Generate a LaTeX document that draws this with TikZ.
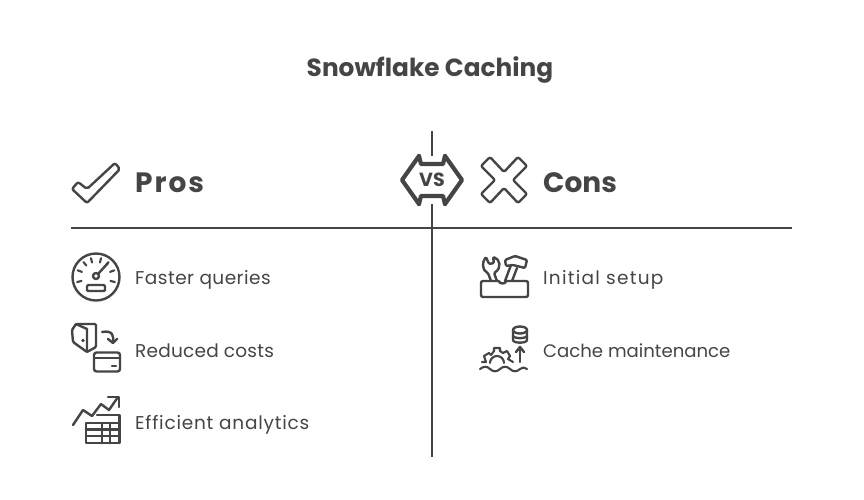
\documentclass[tikz,border=0pt]{standalone}
\usepackage{fontspec}
\setmainfont{Poppins}
\definecolor{ink}{HTML}{454545}
\newcommand{\lsp}[1]{\addfontfeature{LetterSpace=#1}}
\tikzset{
  icon/.style={draw=ink,line width=2.4pt,line cap=round,line join=round,rounded corners=1.2pt},
  sharp/.style={draw=ink,line width=2.4pt,line cap=round,line join=round},
  rule/.style={draw=ink,line width=2.9pt},
  itemtext/.style={anchor=base west,inner sep=0pt,text=ink,font=\fontsize{18.5}{20}\selectfont},
  headtext/.style={anchor=base west,inner sep=0pt,text=ink,font=\fontsize{28}{30}\selectfont\bfseries},
  titletext/.style={anchor=base,inner sep=0pt,text=ink,font=\fontsize{24.8}{27}\selectfont\bfseries}
}
\begin{document}
\begin{tikzpicture}[x=1pt,y=-1pt]
\useasboundingbox[fill=white] (0,0) rectangle (864,499);
% title
\node[titletext] (title) at (430,76) {Snowflake Caching};
% rules
\coordinate (hl) at (71,228); \coordinate (hr) at (792,228);
\coordinate (vt) at (432,131); \coordinate (vm) at (432,156);
\coordinate (vn) at (432,204); \coordinate (vb) at (432,457);
\draw[rule] (hl) -- (hr);
\draw[rule] (vt) -- (vm);
\draw[rule] (vn) -- (vb);
% check icon
\draw[icon,rounded corners=2pt] (115,163) -- (120,169) -- (87,203) -- (72,189) -- (78,182) -- (87,189) -- cycle;
% VS icon
\draw[sharp,line width=4.2pt] (419,156) -- (402,180) -- (419,204);
\draw[sharp,line width=4.2pt] (445,156) -- (462,180) -- (445,204);
\draw[sharp,line width=4.2pt] (419,156) -- (421,164) -- (443,164) -- (445,156);
\draw[sharp,line width=4.2pt] (419,204) -- (421,196) -- (443,196) -- (445,204);
\node[inner sep=0pt,text=ink,font=\fontsize{19}{20}\selectfont\bfseries] (vs) at (432,180) {VS};
% X icon
\draw[icon,rounded corners=2pt] (504,172) -- (518,157) -- (527,166) -- (513,180) -- (527,194) -- (518,203) -- (504,188) -- (490,203) -- (481,194) -- (495,180) -- (481,166) -- (490,157) -- cycle;
% headings
\node[headtext] (pros) at (135,192) {\lsp{7}Pros};
\node[headtext] (cons) at (543,192) {Cons};
% gauge
\draw[icon] (96,277) circle (23.5);
\foreach \a in {-15,20,50,75,105,130,160,195}
  \draw[sharp,line width=2.1pt] (96,277) ++({15*cos(\a)},{-15*sin(\a)}) -- ++({4.5*cos(\a)},{-4.5*sin(\a)});
\draw[icon] (96,276) circle (3);
\draw[icon] (98,274) -- (108,263);
\draw[icon] (87,285) rectangle (105,291);
% wallet
\draw[icon] (72,330) -- (76,324) -- (96,324) -- (96,347) -- (87,352) -- (73,342) -- cycle;
\draw[sharp] (76,324) -- (87,329) -- (87,352);
\fill[ink] (83,340.5) circle (1.8);
\draw[sharp] (102,332) .. controls (113,330) and (114,336) .. (113,343);
\draw[sharp] (108,339) -- (113,343) -- (117,339);
\draw[icon,rounded corners=2.5pt] (94,352.5) rectangle (120,371.5);
\draw[sharp] (94,358) -- (120,358);
\draw[sharp] (112,366) -- (116,366);
% chart
\draw[sharp] (73,425) -- (83,410) -- (92,416) -- (101,404) -- (109,410) -- (118,397);
\draw[sharp] (108,397) -- (119,397) -- (119,407);
\draw[sharp] (97,415) -- (119.5,415) -- (119.5,443) -- (86,443) -- (86,423) -- (119.5,423);
\draw[sharp] (86,429.5) -- (119.5,429.5);
\draw[sharp] (86,436) -- (119.5,436);
\draw[sharp] (102,423) -- (102,443);
\draw[sharp] (110,423) -- (110,443);
% toolbox
\draw[icon,rounded corners=2pt] (481,281) -- (500,281) arc (180:0:2.5) -- (528,281) -- (528,297) -- (481,297) -- cycle;
\draw[icon] (491,281) -- (488,273) .. controls (482,270) and (482,262) .. (486,257) -- (489,264) -- (494,263) -- (493,257) .. controls (500,259) and (502,268) .. (494,273) -- (497,281);
\draw[icon] (505,281) -- (511,265);
\draw[icon] (512,281) -- (517,268);
\draw[icon] (505,260) -- (515,256) -- (527,260) -- (525,268) -- (513,265) -- (506,266) -- cycle;
% maintenance
\draw[sharp] (513,330) -- (513,340) .. controls (513,343.5) and (527,343.5) .. (527,340) -- (527,330);
\draw[sharp] (520,330) ellipse (7 and 3.5);
\draw[sharp] (513,335.5) .. controls (513,339) and (527,339) .. (527,335.5);
\draw[sharp] (520,362) -- (520,347);
\draw[sharp] (516,352) -- (520,347) -- (524,352);
\draw[sharp,line width=2.1pt] (482,362) -- (486,362) -- (484,356) -- (489,353) -- (491,355) -- (494,351) -- (494,348) -- (500,348) -- (500,351) -- (503,353) -- (507,351) -- (510,356) -- (508,359) -- (513,362);
\draw[sharp,line width=2.1pt] (490,363) arc (180:360:7);
\draw[sharp,line width=2.1pt] (480,369) .. controls (484,366) and (487,366) .. (490,369) .. controls (493,372) and (497,372) .. (500,369) .. controls (503,366) and (507,366) .. (510,369) .. controls (513,372) and (517,372) .. (520,369) .. controls (522,367) and (525,367) .. (527,369);
% items
\node[itemtext] (i1) at (135,284) {\lsp{2.5}Faster queries};
\node[itemtext] (i2) at (135,357) {\lsp{1.2}Reduced costs};
\node[itemtext] (i3) at (135,429) {\lsp{4.2}Efficient analytics};
\node[itemtext] (c1) at (543,284) {\lsp{6.8}Initial setup};
\node[itemtext,font=\fontsize{18.1}{20}\selectfont] (c2) at (543,357) {Cache maintenance};
\end{tikzpicture}
\end{document}
